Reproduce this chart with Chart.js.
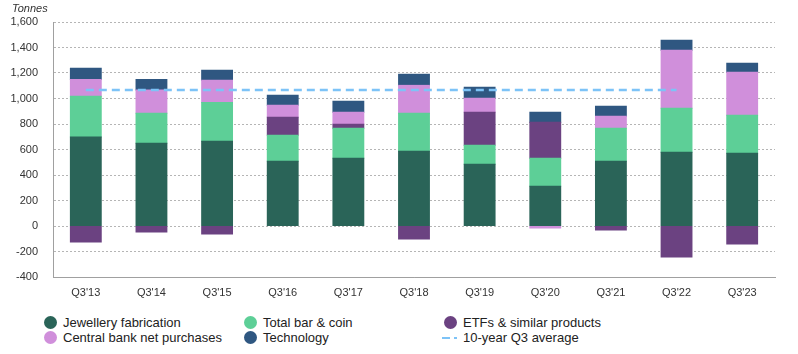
<!DOCTYPE html>
<html>
<head>
<meta charset="utf-8">
<script src="https://cdn.jsdelivr.net/npm/chart.js@4/dist/chart.umd.min.js"></script>
<style>
body{
    margin:0;
    background:#ffffff;
    font-family:"Liberation Sans", Arial, sans-serif;
}
#wrap{
    position:relative;
    width:798px;
    height:354px;
}
#chart{
    position:absolute;
    left:0;
    top:0;
}
#unit{
    position:absolute;
    left:12px;
    top:2px;
    font-size:11px;
    font-style:italic;
    color:#333;
}
.legend-item{
    position:absolute;
    font-size:13px;
    color:#222;
    line-height:15px;
    white-space:nowrap;
}
.dot{
    position:absolute;
    left:-19px;
    top:1px;
    width:13px;
    height:13px;
    border-radius:50%;
}
.dash{
    position:absolute;
    left:-21px;
    top:7px;
    width:15px;
    height:2px;
    background:repeating-linear-gradient(90deg,#7dc3f7 0 8px,transparent 8px 12px);
}
</style>
</head>
<body>

<div id="wrap">
    <canvas id="chart" width="798" height="310"></canvas>
    <div id="unit">Tonnes</div>
    <div id="legend"></div>
</div>

<script>

// =========================
// Data
// =========================
const categories = ["Q3'13","Q3'14","Q3'15","Q3'16","Q3'17","Q3'18","Q3'19","Q3'20","Q3'21","Q3'22","Q3'23"];

const jewellery   = [698, 649, 664, 507, 531, 586, 484, 311, 507, 578, 570];
const barCoin     = [319, 235, 304, 204, 235, 298, 149, 220, 259, 345, 298];
const etfs        = [-125, -47, -63, 142, 32, -102, 259, 282, -31, -243, -141];
const centralBank = [133, 183, 175, 94, 94, 219, 110, -15, 95, 455, 338];
const technology  = [87, 83, 78, 78, 86, 87, 86, 79, 78, 78, 70];
const q3Average   = [1067, 1067, 1067, 1067, 1067, 1067, 1067, 1067, 1067, 1067, null];

const yMin = -400;
const yMax = 1600;
const yStep = 200;

// =========================
// Series styles
// =========================
const barSeries = [
    { label:"Jewellery fabrication",    data:jewellery,   color:"#2a6458" },
    { label:"Total bar & coin",         data:barCoin,     color:"#5dcf97" },
    { label:"ETFs & similar products",  data:etfs,        color:"#6b4281" },
    { label:"Central bank net purchases", data:centralBank, color:"#d08fdb" },
    { label:"Technology",               data:technology,  color:"#2f5781" }
];

const avgLabel = "10-year Q3 average";
const avgColor = "#7dc3f7";


// =========================
// Chart
// =========================
const datasets = barSeries.map(s => ({
    type:"bar",
    label:s.label,
    data:s.data,
    backgroundColor:s.color,
    borderWidth:0,
    inflateAmount:0.5,
    stack:"main",
    barPercentage:0.47,
    categoryPercentage:1
}));

datasets.push({
    type:"line",
    label:avgLabel,
    data:q3Average,
    borderColor:avgColor,
    borderWidth:2.5,
    borderDash:[8,5],
    pointRadius:0,
    fill:false,
    stack:"avg",
    order:-1
});

new Chart(document.getElementById("chart"),{

    data:{
        labels:categories,
        datasets:datasets
    },

    options:{
        responsive:false,
        animation:false,
        layout:{
            padding:{ top:22, right:23, left:0, bottom:0 }
        },
        plugins:{
            legend:{ display:false },
            tooltip:{ enabled:false }
        },
        scales:{
            x:{
                stacked:true,
                grid:{ display:false, drawTicks:false },
                border:{ color:"#a0a0a0", width:1 },
                ticks:{
                    color:"#333",
                    font:{ family:"Liberation Sans", size:11 },
                    padding:9,
                    maxRotation:0
                },
                afterFit:(s) => { s.height = 33; }
            },
            y:{
                stacked:true,
                min:yMin,
                max:yMax,
                grid:{
                    color:"#b5b5b5",
                    lineWidth:1,
                    drawTicks:false
                },
                border:{ color:"#a0a0a0", width:1, dash:[2,2] },
                ticks:{
                    stepSize:yStep,
                    color:"#333",
                    font:{ family:"Liberation Sans", size:11 },
                    padding:15,
                    callback:(v) => v.toLocaleString("en-US")
                },
                afterFit:(s) => { s.width = 53; }
            }
        }
    }

});


// =========================
// Legend
// =========================
const legendSpots = [
    { x:63,  y:315 },
    { x:263, y:315 },
    { x:463, y:315 },
    { x:63,  y:330 },
    { x:263, y:330 }
];

const legend = document.getElementById("legend");

barSeries.forEach((s, i) => {
    const item = document.createElement("div");
    item.className = "legend-item";
    item.style.left = legendSpots[i].x + "px";
    item.style.top = legendSpots[i].y + "px";
    item.innerHTML = '<span class="dot" style="background:' + s.color + '"></span>' + s.label;
    legend.appendChild(item);
});

const avgItem = document.createElement("div");
avgItem.className = "legend-item";
avgItem.style.left = "463px";
avgItem.style.top = "330px";
avgItem.innerHTML = '<span class="dash"></span>' + avgLabel;
legend.appendChild(avgItem);

</script>
</body>
</html>
